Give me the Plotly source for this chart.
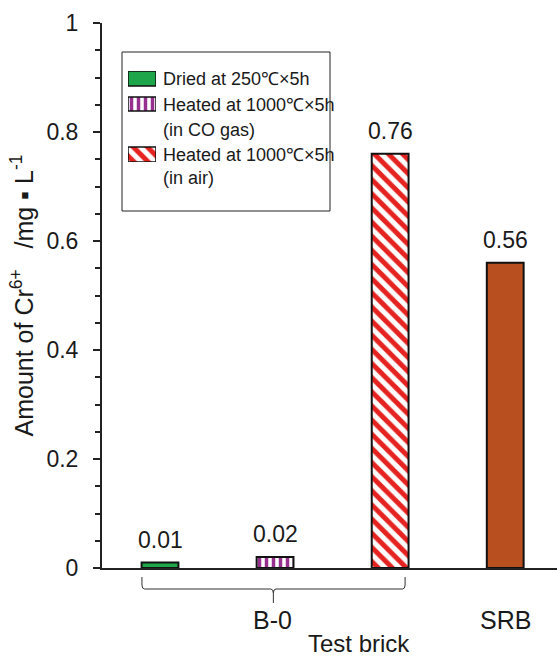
import plotly.graph_objects as go

# ---- data ----
series_names = ["Dried at 250℃×5h", "Heated at 1000℃×5h|(in CO gas)",
                "Heated at 1000℃×5h|(in air)", "SRB"]
values = [0.01, 0.02, 0.76, 0.56]
positions = [1, 2, 3, 4]
group_labels = ["B-0", "SRB"]
group_positions = [1.98, 4]
y_ticks = [0, 0.2, 0.4, 0.6, 0.8, 1]

fills = ["#1FA64A", "white", "white", "#B84F1F"]
pat_shapes = ["", "|", "\\", ""]
pat_fg = [None, "#962F8E", "#E52421", None]
pat_size = [None, 7, 10, None]
line_cols = ["#111", "#111", "#111", "#111"]

XR = [0.496, 4.45]
W = 0.32


def px(xd):
    return (xd - XR[0]) / (XR[1] - XR[0])


def py(p):
    return (568 - p) / 545


def ppx(p):
    return (p - 102) / 455


def make_marker(i, lw=2):
    m = dict(color=fills[i], line=dict(color=line_cols[i], width=lw))
    if pat_shapes[i]:
        m["pattern"] = dict(shape=pat_shapes[i], fgcolor=pat_fg[i], bgcolor="white", fgopacity=1,
                            size=pat_size[i], solidity=0.5, fillmode="overlay")
    return m


fig = go.Figure()
for i in range(4):
    fig.add_trace(go.Bar(x=[positions[i]], y=[values[i]], width=W, name=series_names[i].replace("|", " "),
                         marker=make_marker(i), showlegend=False))
    fig.add_annotation(x=positions[i], y=values[i], text=f"{values[i]:.2f}", showarrow=False,
                       xanchor="center", yanchor="bottom", yshift=8, font=dict(size=23, color="#1a1a1a"))

# ---- custom legend (box, swatches on a small helper axis, texts) ----
fig.add_shape(type="rect", xref="paper", yref="paper", x0=ppx(122), x1=ppx(330), y0=py(211), y1=py(52),
              line=dict(color="#222", width=1), fillcolor="white", layer="below")
sw_base = [76, 51, 0]
sw_h = [15, 14, 15]
for i in range(3):
    fig.add_trace(go.Bar(x=[0], y=[sw_h[i]], base=[sw_base[i]], width=1, xaxis="x2", yaxis="y2",
                         marker=make_marker(i, lw=1.5), showlegend=False, hoverinfo="skip"))
leg_rows = [[79], [105, 130], [155, 178]]
for i in range(3):
    for line, yp in zip(series_names[i].split("|"), leg_rows[i]):
        fig.add_annotation(x=ppx(161), y=py(yp), xref="paper", yref="paper", text=line,
                           xanchor="left", yanchor="middle", showarrow=False,
                           font=dict(size=18, color="#1a1a1a"))

# ---- brace under B-0 ----
xl, xr, xc = px(0.843), px(3.13), px(1.985)
yt, ym, yb = py(577), py(589), py(603)
r = 0.006
ry = py(585)
path = (f"M {xl},{yt} L {xl},{ry} Q {xl},{ym} {xl+r},{ym} L {xc-r},{ym} Q {xc},{ym} {xc},{py(593)} "
        f"L {xc},{yb} M {xc},{py(593)} Q {xc},{ym} {xc+r},{ym} L {xr-r},{ym} Q {xr},{ym} {xr},{ry} L {xr},{yt}")
fig.add_shape(type="path", path=path, xref="paper", yref="paper", line=dict(color="#333", width=1))

for lab, pos in zip(group_labels, group_positions):
    fig.add_annotation(x=px(pos), y=py(620), xref="paper", yref="paper", text=lab,
                       xanchor="center", yanchor="middle",
                       showarrow=False, font=dict(size=25, color="#1a1a1a"))
fig.add_annotation(x=ppx(359), y=py(659), xref="paper", yref="paper", text="Test brick",
                   xanchor="center", yanchor="bottom",
                   showarrow=False, font=dict(size=24, color="#1a1a1a"))

fig.update_layout(
    width=557, height=660,
    margin=dict(l=102, r=0, t=23, b=92),
    paper_bgcolor="white", plot_bgcolor="white",
    font=dict(family="Liberation Sans, Arial, sans-serif", color="#1a1a1a"),
    barmode="overlay",
    showlegend=False,
    xaxis=dict(range=XR, showticklabels=False, ticks="", showgrid=False, zeroline=False,
               showline=True, linecolor="#222", linewidth=2),
    yaxis=dict(range=[0, 1], tickvals=y_ticks, ticktext=[f"{v:g}" for v in y_ticks],
               ticks="outside", ticklen=7, tickwidth=1.5, tickcolor="#222",
               minor=dict(dtick=0.05, ticks="outside", ticklen=5, tickwidth=1.5, tickcolor="#222"),
               showgrid=False, zeroline=False, showline=True, linecolor="#222", linewidth=2,
               tickfont=dict(size=23, color="#1a1a1a"), ticklabelstandoff=10,
               title=dict(text="Amount of Cr<sup>6+</sup> &nbsp; /mg ▪ L<sup>-1</sup>",
                          font=dict(size=25, color="#1a1a1a"), standoff=6)),
    xaxis2=dict(domain=[ppx(128), ppx(156)], range=[-0.5, 0.5], anchor="y2", visible=False, fixedrange=True),
    yaxis2=dict(domain=[py(162), py(71)], range=[0, 91], anchor="x2", visible=False, fixedrange=True),
)

fig.write_html("out.html", config={"displayModeBar": False},
               post_script="document.body.style.margin='0';")
